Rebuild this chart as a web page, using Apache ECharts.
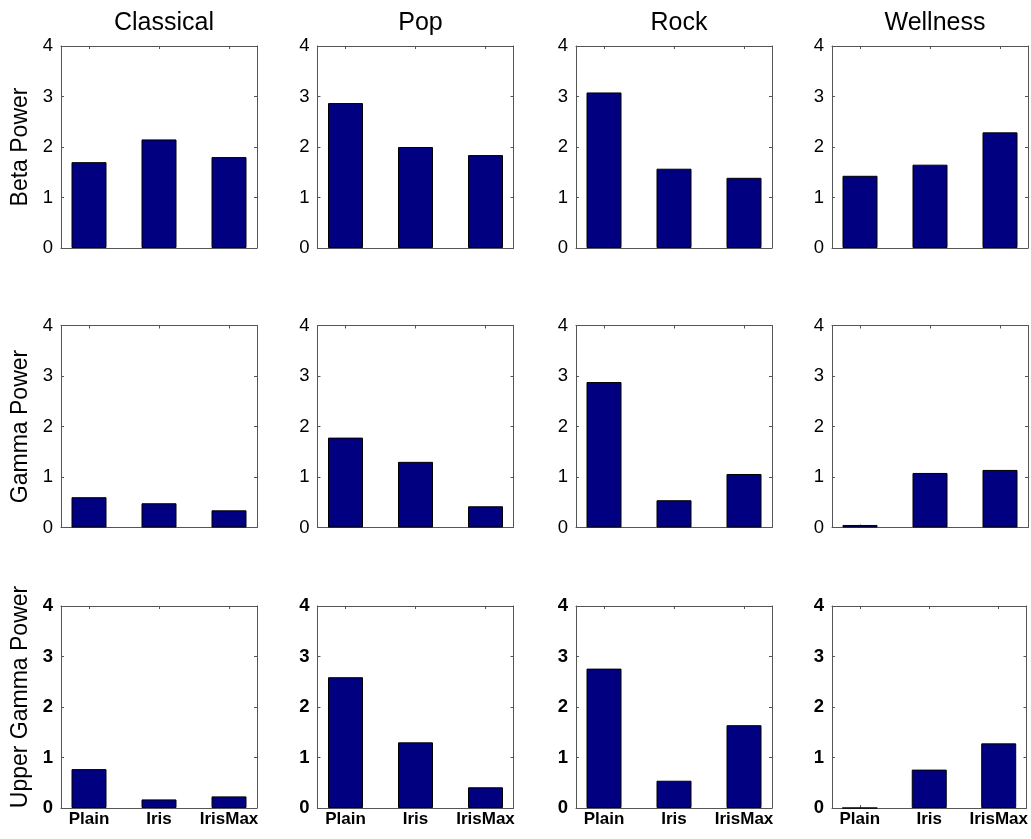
<!DOCTYPE html>
<html>
<head>
<meta charset="utf-8">
<script src="https://cdn.jsdelivr.net/npm/echarts@6/dist/echarts.min.js"></script>
<style>
  html, body { margin: 0; padding: 0; background: #fff; }
  #chart { width: 1031px; height: 839px; }
</style>
</head>
<body>
<div id="chart"></div>
<script>
// Conditions on the x axis of every panel
const categories = ['Plain', 'Iris', 'IrisMax'];
// Music genres, one per column
const genres = ['Classical', 'Pop', 'Rock', 'Wellness'];
// Frequency bands, one per row
const bands = ['Beta Power', 'Gamma Power', 'Upper Gamma Power'];
// Y tick values shared by all panels
const yTicks = [0, 1, 2, 3, 4];

// Band power per genre (Classical, Pop, Rock, Wellness), each [Plain, Iris, IrisMax]
const betaPower = [
  [1.70, 2.15, 1.80],
  [2.87, 2.00, 1.84],
  [3.08, 1.57, 1.39],
  [1.43, 1.65, 2.29]
];
const gammaPower = [
  [0.60, 0.48, 0.34],
  [1.78, 1.30, 0.42],
  [2.88, 0.54, 1.06],
  [0.05, 1.08, 1.14]
];
const upperGammaPower = [
  [0.77, 0.17, 0.23],
  [2.59, 1.30, 0.41],
  [2.76, 0.54, 1.64],
  [0.00, 0.76, 1.28]
];
const bandValues = [betaPower, gammaPower, upperGammaPower];

const FONT = '"Liberation Sans", Arial, Helvetica, sans-serif';
const AXIS_COLOR = '#555';
const BAR_FILL = '#000080';

const colLeft = [61, 317.5, 576, 832];
const rowTop = [46, 325.5, 606];
const panelW = 196;
const panelH = 202;
const catPos = [1, 2, 3];

const chart = echarts.init(document.getElementById('chart'), null, { renderer: 'canvas' });

const grid = [], xAxis = [], yAxis = [], series = [], title = [];

genres.forEach((g, c) => {
  title.push({
    text: g,
    left: colLeft[c] + panelW / 2,
    top: 6,
    textAlign: 'center',
    textStyle: { fontFamily: FONT, fontSize: 25, fontWeight: 'normal', color: '#000' }
  });
});

bands.forEach((band, r) => {
  const bottomRow = r === bands.length - 1;
  genres.forEach((g, c) => {
    const gi = grid.length;
    grid.push({ left: colLeft[c], top: rowTop[r], width: panelW, height: panelH, containLabel: false });

    // bottom x axis (with category labels on the last row)
    xAxis.push({
      type: 'value', gridIndex: gi, position: 'bottom',
      min: 0.6, max: 3.4,
      axisLine: { show: true, onZero: false, lineStyle: { color: AXIS_COLOR, width: 1 } },
      axisTick: { show: true, inside: true, length: 3, customValues: catPos, lineStyle: { color: AXIS_COLOR } },
      axisLabel: {
        show: bottomRow, customValues: catPos, margin: 3,
        formatter: v => categories[Math.round(v) - 1] || '',
        fontFamily: FONT, fontSize: 17, fontWeight: 'bold', color: '#000'
      },
      splitLine: { show: false }
    });
    // top x axis closing the box
    xAxis.push({
      type: 'value', gridIndex: gi, position: 'top',
      min: 0.6, max: 3.4,
      axisLine: { show: true, onZero: false, lineStyle: { color: AXIS_COLOR, width: 1 } },
      axisTick: { show: true, inside: true, length: 3, customValues: catPos, lineStyle: { color: AXIS_COLOR } },
      axisLabel: { show: false },
      splitLine: { show: false }
    });

    yAxis.push({
      type: 'value', gridIndex: gi, position: 'left',
      min: 0, max: 4, interval: 1,
      name: c === 0 ? band : '',
      nameLocation: 'middle', nameRotate: 90, nameGap: 29,
      nameTextStyle: {
        fontFamily: FONT, fontSize: 23, color: '#000',
        padding: bottomRow ? [0, 0, 0, 20] : 0
      },
      axisLine: { show: true, onZero: false, lineStyle: { color: AXIS_COLOR, width: 1 } },
      axisTick: { show: true, inside: true, length: 3, lineStyle: { color: AXIS_COLOR } },
      axisLabel: {
        margin: 8, fontFamily: FONT, fontSize: 18.5, color: '#000',
        fontWeight: bottomRow ? 'bold' : 'normal',
        customValues: yTicks
      },
      splitLine: { show: false }
    });
    yAxis.push({
      type: 'value', gridIndex: gi, position: 'right',
      min: 0, max: 4, interval: 1,
      axisLine: { show: true, onZero: false, lineStyle: { color: AXIS_COLOR, width: 1 } },
      axisTick: { show: true, inside: true, length: 3, lineStyle: { color: AXIS_COLOR } },
      axisLabel: { show: false },
      splitLine: { show: false }
    });

    const vals = bandValues[r][c];
    series.push({
      type: 'bar',
      xAxisIndex: gi * 2,
      yAxisIndex: gi * 2,
      barWidth: 35,
      data: vals.map((v, i) => [catPos[i], v]),
      itemStyle: { color: BAR_FILL, borderColor: '#000', borderWidth: 1 },
      emphasis: { disabled: true },
      animation: false
    });
  });
});

chart.setOption({
  backgroundColor: '#fff',
  animation: false,
  title, grid, xAxis, yAxis, series
});
</script>
</body>
</html>
